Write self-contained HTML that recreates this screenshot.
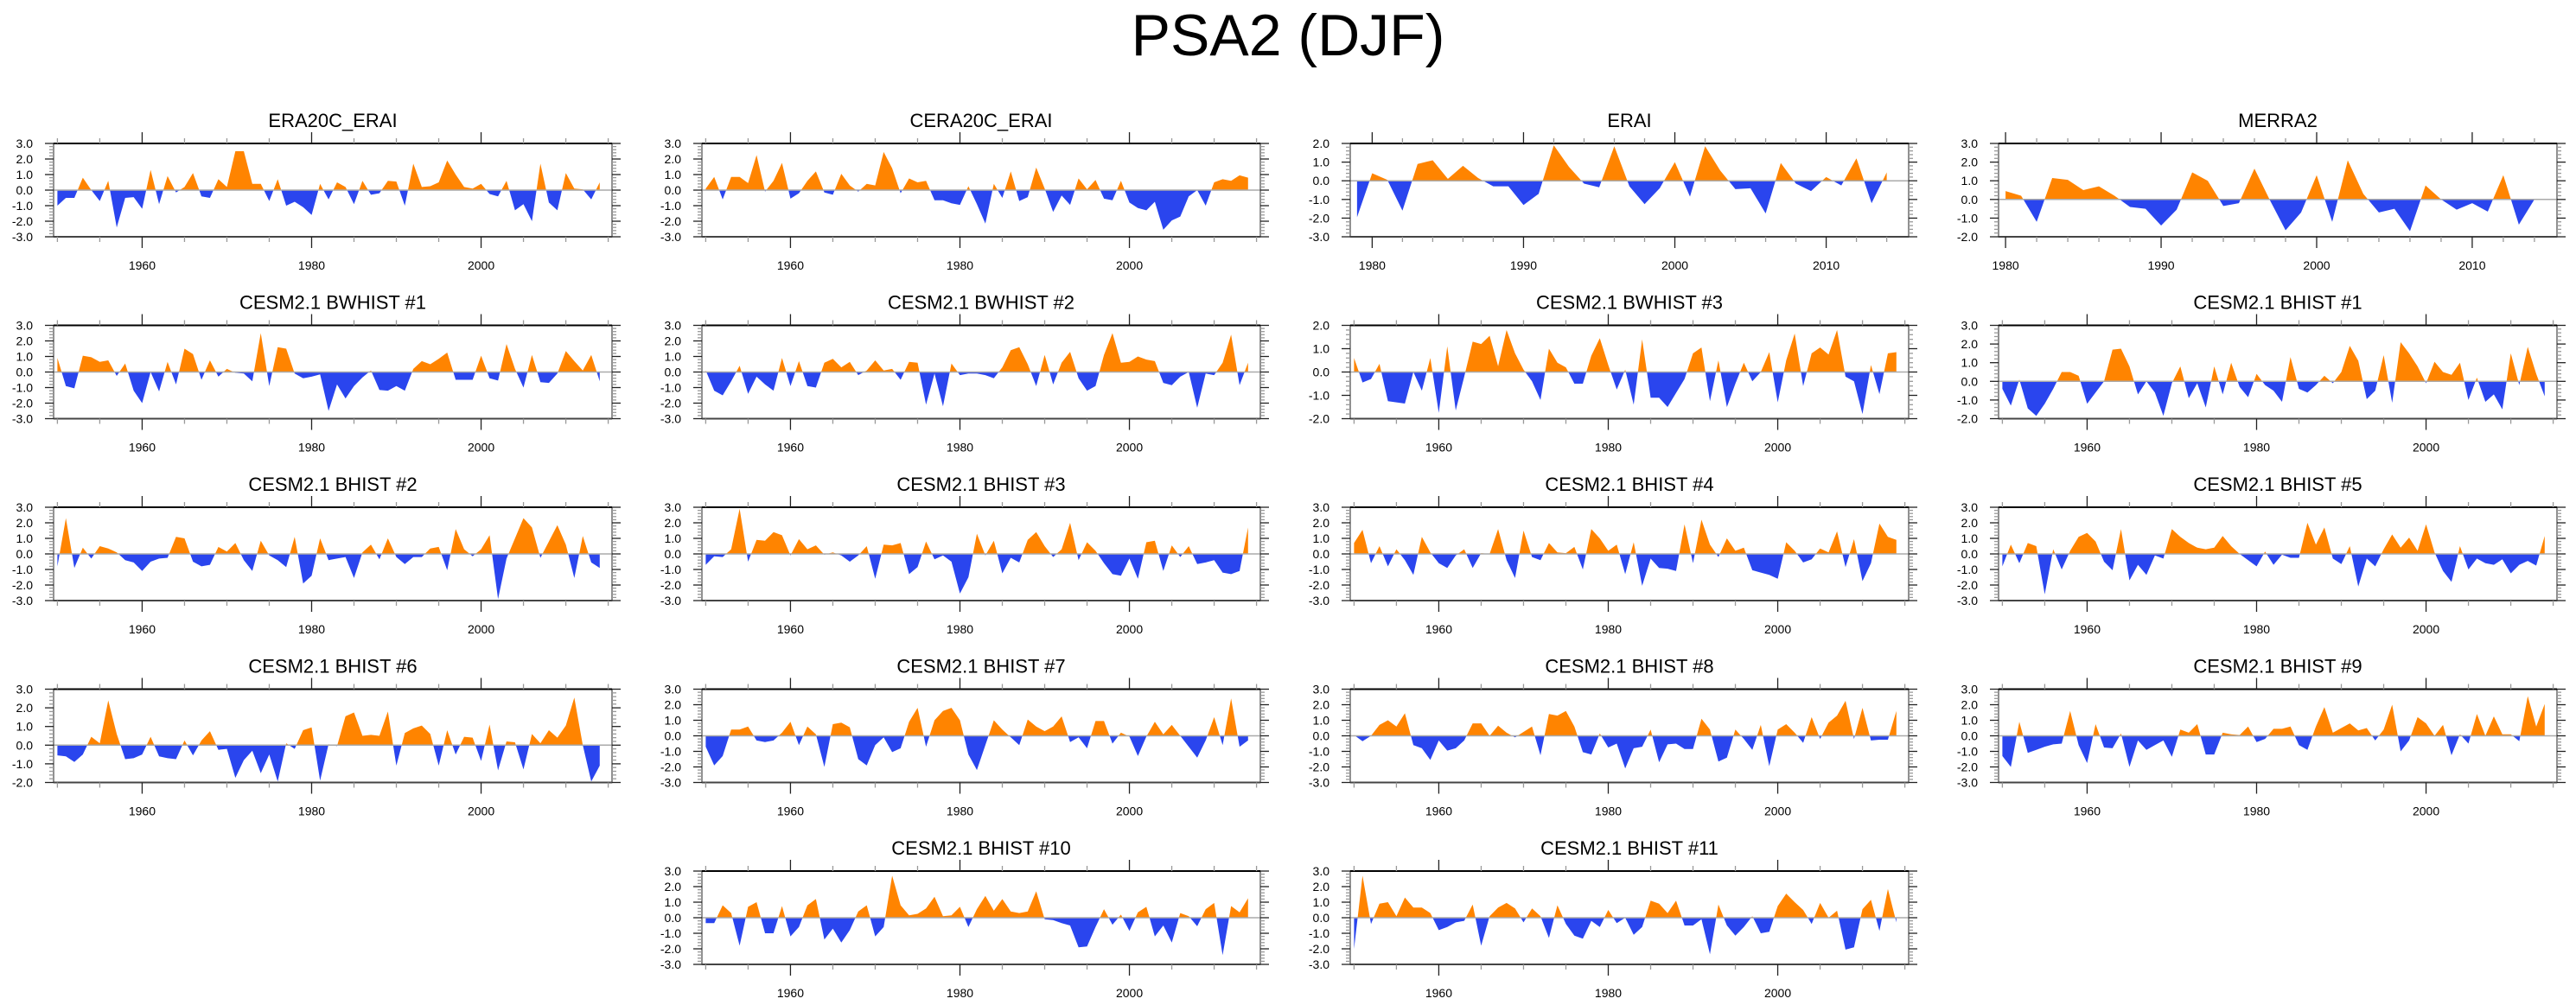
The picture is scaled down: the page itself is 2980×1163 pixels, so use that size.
<!DOCTYPE html>
<html><head><meta charset="utf-8"><title>PSA2 (DJF)</title>
<style>
html,body{margin:0;padding:0;background:#fff;}
svg{display:block;font-family:"Liberation Sans",Arial,sans-serif;}
</style></head>
<body>
<svg id="fig" width="2980" height="1163" viewBox="0 0 2980 1163" xmlns="http://www.w3.org/2000/svg">
<text x="1490" y="64" text-anchor="middle" font-size="68" fill="#000">PSA2 (DJF)</text>
</svg>
<script>
const panelTitles = ["ERA20C_ERAI","CERA20C_ERAI","ERAI","MERRA2","CESM2.1 BWHIST #1","CESM2.1 BWHIST #2","CESM2.1 BWHIST #3","CESM2.1 BHIST #1","CESM2.1 BHIST #2","CESM2.1 BHIST #3","CESM2.1 BHIST #4","CESM2.1 BHIST #5","CESM2.1 BHIST #6","CESM2.1 BHIST #7","CESM2.1 BHIST #8","CESM2.1 BHIST #9","CESM2.1 BHIST #10","CESM2.1 BHIST #11"];
const panelStartYears = [1950,1950,1979,1980,1950,1950,1950,1950,1950,1950,1950,1950,1950,1950,1950,1950,1950,1950];
const panelYMin = [-3,-3,-3,-2,-3,-3,-2,-2,-3,-3,-3,-3,-2,-3,-3,-3,-3,-3];
const panelYMax = [3,3,2,3,3,3,2,3,3,3,3,3,3,3,3,3,3,3];

const sERA20C = [-1.0,-0.5,-0.5,0.8,0.0,-0.7,0.6,-2.4,-0.5,-0.45,-1.2,1.3,-0.9,0.9,-0.15,0.2,1.1,-0.4,-0.5,0.7,0.2,2.5,2.5,0.4,0.4,-0.7,0.7,-1.0,-0.75,-1.1,-1.6,0.4,-0.6,0.5,0.2,-0.9,0.6,-0.3,-0.2,0.6,0.55,-1.0,1.7,0.2,0.25,0.5,1.9,1.0,0.2,0.1,0.4,-0.25,-0.4,0.6,-1.3,-0.9,-2.0,1.7,-0.8,-1.3,1.1,0.1,0.05,-0.6,0.5];
const sCERA20C = [0.1,0.85,-0.6,0.85,0.85,0.45,2.25,-0.1,0.6,1.75,-0.55,-0.2,0.6,1.2,-0.15,-0.3,1.05,0.3,-0.1,0.4,0.3,2.45,1.4,-0.2,0.75,0.5,0.6,-0.65,-0.65,-0.85,-0.95,0.25,-0.9,-2.15,0.4,-0.5,1.2,-0.7,-0.45,1.45,0.1,-1.4,-0.35,-0.95,0.75,0.05,0.65,-0.55,-0.65,0.6,-0.8,-1.15,-1.3,-0.75,-2.55,-1.95,-1.7,-0.4,0.0,-1.0,0.5,0.7,0.6,0.95,0.8];
const sERAI = [-1.95,0.4,0.05,-1.6,0.9,1.1,0.1,0.8,0.15,-0.3,-0.3,-1.3,-0.7,1.9,0.75,-0.15,-0.35,1.85,-0.3,-1.25,-0.4,1.0,-0.85,1.85,0.55,-0.45,-0.4,-1.75,0.95,-0.15,-0.55,0.2,-0.25,1.2,-1.2,0.45];
const sMERRA2 = [0.45,0.2,-1.2,1.15,1.05,0.5,0.7,0.2,-0.4,-0.5,-1.4,-0.55,1.45,1.0,-0.35,-0.2,1.65,-0.05,-1.65,-0.7,1.3,-1.2,2.1,0.3,-0.7,-0.5,-1.7,0.75,0.0,-0.55,-0.2,-0.65,1.3,-1.35,0.0];
const sBWHIST1 = [0.9,-0.9,-1.05,1.05,0.95,0.65,0.75,-0.25,0.55,-1.2,-2.0,0.0,-1.25,0.65,-0.8,1.5,1.15,-0.5,0.75,-0.3,0.2,-0.05,-0.1,-0.6,2.5,-0.9,1.6,1.5,-0.1,-0.4,-0.3,-0.15,-2.5,-0.8,-1.7,-0.9,-0.35,0.1,-1.15,-1.2,-0.9,-1.2,0.2,0.7,0.5,0.85,1.25,-0.5,-0.5,-0.5,1.05,-0.4,-0.55,1.8,0.2,-1.0,1.1,-0.65,-0.7,-0.1,1.35,0.7,0.1,1.1,-0.6];
const sBWHIST2 = [0.1,-1.2,-1.5,-0.6,0.4,-1.4,-0.3,-0.8,-1.2,0.9,-0.9,0.7,-0.9,-1.0,0.6,0.85,0.3,0.65,-0.2,0.1,0.75,0.1,0.2,-0.5,0.65,0.6,-2.1,-0.1,-2.2,0.55,-0.2,-0.1,-0.1,-0.2,-0.4,0.3,1.4,1.6,0.5,-0.9,1.1,-0.8,0.6,1.3,-0.4,-1.2,-0.9,1.1,2.5,0.6,0.65,1.0,0.8,0.7,-0.7,-0.85,-0.3,0.0,-2.3,-0.1,-0.2,0.6,2.4,-0.85,0.6];
const sBWHIST3 = [0.6,-0.45,-0.3,0.35,-1.25,-1.3,-1.35,0.0,-0.8,0.6,-1.75,1.1,-1.65,-0.2,1.3,1.2,1.55,0.25,1.8,0.8,0.1,-0.4,-1.2,1.0,0.4,0.2,-0.5,-0.5,0.7,1.45,0.3,-0.75,0.1,-1.4,1.4,-1.1,-1.1,-1.5,-0.9,-0.3,0.8,1.05,-1.25,0.5,-1.5,-0.5,0.4,-0.4,0.0,0.85,-1.3,0.5,1.65,-0.6,0.8,1.05,0.75,1.8,-0.2,-0.4,-1.8,0.3,-0.95,0.8,0.85];
const sBHIST1 = [-0.4,-1.3,0.1,-1.45,-1.85,-1.2,-0.4,0.5,0.5,0.3,-1.2,-0.6,0.0,1.7,1.75,0.8,-0.7,0.0,-0.6,-1.85,-0.1,0.8,-0.9,-0.1,-1.4,0.8,-0.7,1.0,-0.3,-0.85,0.4,-0.2,-0.5,-1.1,1.3,-0.4,-0.6,-0.2,0.3,-0.1,0.5,1.9,1.1,-0.95,-0.5,1.4,-1.15,2.1,1.5,0.8,-0.1,1.05,0.5,0.35,1.0,-1.0,0.2,-1.1,-0.7,-1.5,1.5,-0.2,1.85,0.4,-0.8];
const sBHIST2 = [-0.8,2.3,-0.9,0.4,-0.3,0.5,0.35,0.1,-0.4,-0.55,-1.1,-0.5,-0.3,-0.25,1.1,1.0,-0.5,-0.8,-0.7,0.45,0.15,0.7,-0.4,-1.1,0.85,-0.1,-0.4,-0.85,1.1,-1.9,-1.4,1.0,-0.4,-0.3,-0.2,-1.55,0.1,0.6,-0.35,1.0,-0.2,-0.65,-0.2,-0.2,0.35,0.45,-1.05,1.6,0.3,-0.15,0.3,1.2,-2.9,-0.3,1.0,2.3,1.7,-0.25,0.8,1.85,0.6,-1.55,1.15,-0.55,-0.9];
const sBHIST3 = [-0.7,-0.15,-0.2,0.3,2.9,-0.5,0.9,0.85,1.4,1.2,-0.1,0.95,0.3,0.55,-0.05,0.1,-0.1,-0.5,-0.1,0.5,-1.6,0.6,0.55,0.7,-1.3,-0.85,0.8,-0.35,-0.1,-0.5,-2.55,-1.5,1.3,-0.1,0.85,-1.25,-0.25,-0.55,0.9,1.4,0.5,-0.2,0.3,2.0,-0.4,0.75,0.2,-0.6,-1.3,-1.4,-0.3,-1.6,0.75,0.85,-1.1,0.55,-0.2,0.5,-0.65,-0.55,-0.4,-1.2,-1.3,-1.1,1.7];
const sBHIST4 = [0.7,1.55,-0.6,0.5,-0.8,0.3,-0.4,-1.35,1.1,0.1,-0.6,-0.9,-0.1,0.3,-0.9,0.05,0.0,1.6,-0.4,-1.55,1.5,-0.2,-0.4,0.7,0.1,0.05,0.45,-1.0,1.6,1.0,0.2,0.6,-1.3,0.75,-2.05,-0.3,-0.9,-0.95,-1.1,1.9,-0.6,2.2,0.6,-0.2,1.0,0.2,0.4,-1.05,-1.2,-1.35,-1.6,0.75,0.2,-0.55,-0.35,0.35,0.1,1.45,-0.85,0.95,-1.75,-0.6,1.95,1.1,0.9];
const sBHIST5 = [-0.8,0.6,-0.6,0.7,0.5,-2.6,0.3,-1.0,0.2,1.1,1.35,0.8,-0.5,-1.05,1.6,-1.7,-0.7,-1.35,-0.1,-0.3,1.6,1.1,0.7,0.4,0.3,0.4,1.15,0.5,0.0,-0.4,-0.8,0.15,-0.7,-0.05,-0.25,-0.25,2.0,0.6,1.7,-0.3,-0.65,0.5,-2.1,-0.3,-0.8,0.3,1.25,0.4,1.05,0.2,1.9,0.1,-1.1,-1.8,0.5,-1.0,-0.3,-0.6,-0.7,-0.35,-1.25,-0.7,-0.45,-0.75,1.15];
const sBHIST6 = [-0.55,-0.6,-0.9,-0.5,0.45,0.1,2.4,0.6,-0.75,-0.7,-0.5,0.45,-0.6,-0.7,-0.75,0.25,-0.55,0.25,0.75,-0.25,-0.2,-1.75,-0.8,-0.3,-1.5,-0.5,-1.95,0.1,-0.2,0.8,0.95,-1.9,0.05,-0.05,1.55,1.75,0.5,0.55,0.5,1.8,-1.1,0.65,0.9,1.05,0.6,-1.1,0.8,-0.5,0.45,0.4,-0.85,1.1,-1.35,0.2,0.15,-1.3,0.6,0.1,0.8,0.4,1.05,2.55,0.0,-1.95,-1.1];
const sBHIST7 = [-0.7,-1.9,-1.3,0.4,0.4,0.6,-0.3,-0.4,-0.3,0.2,0.9,-0.6,0.6,0.1,-2.0,0.75,0.85,0.55,-1.5,-1.9,-0.6,-0.1,-1.05,-0.8,0.9,1.8,-0.7,1.0,1.6,1.8,1.0,-1.2,-2.2,-0.6,1.0,0.4,-0.1,-0.6,1.05,0.6,0.3,0.6,1.25,-0.4,-0.1,-0.8,0.95,0.95,-0.5,0.2,-0.05,-1.3,-0.05,0.9,0.1,0.7,0.0,-0.7,-1.4,-0.3,1.2,-0.6,2.4,-0.7,-0.3];
const sBHIST8 = [0.05,-0.35,0.0,0.7,1.0,0.6,1.45,-0.6,-0.8,-1.55,-0.3,-0.95,-0.8,-0.3,0.8,0.8,0.0,0.65,0.2,-0.1,0.25,0.6,-1.25,1.4,1.3,1.6,0.6,-1.05,-1.2,0.15,-0.75,-0.5,-2.1,-0.8,-0.7,0.4,-1.7,-0.55,-0.5,-0.85,-0.85,1.1,0.4,-1.65,-1.4,0.4,-0.2,-0.9,0.7,-1.95,0.4,0.75,0.2,-0.45,1.2,-0.2,0.85,1.3,2.25,-0.2,1.8,-0.3,-0.25,-0.25,1.6];
const sBHIST9 = [-1.3,-2.0,0.9,-1.1,-0.9,-0.7,-0.55,-0.5,1.6,-0.6,-1.75,0.75,-0.75,-0.8,0.15,-2.0,-0.3,-0.9,-0.6,-0.3,-1.35,0.4,0.2,0.75,-1.2,-1.2,0.2,0.1,0.05,0.6,-0.4,-0.2,0.45,0.45,0.6,-0.6,-0.9,0.6,1.85,0.2,0.5,0.8,0.35,0.5,-0.3,0.4,2.0,-1.0,-0.3,1.2,0.8,0.0,0.7,-1.25,0.1,-0.5,1.4,0.0,1.25,0.1,0.1,-0.35,2.55,0.6,2.05];
const sBHIST10 = [-0.35,-0.35,0.8,0.3,-1.8,0.7,1.0,-1.0,-1.0,0.75,-1.2,-0.6,0.8,1.2,-1.4,-0.7,-1.6,-0.8,0.4,0.8,-1.2,-0.6,2.7,0.8,0.15,0.25,0.6,1.35,0.1,0.15,0.7,-0.6,0.55,1.4,0.45,1.2,0.4,0.3,0.4,1.7,-0.1,-0.15,-0.35,-0.5,-1.9,-1.85,-0.6,0.55,-0.45,0.2,-0.85,0.35,0.7,-1.2,-0.5,-1.6,0.3,0.1,-0.55,0.55,0.95,-2.4,0.75,0.35,1.25];
const sBHIST11 = [-2.0,2.7,-0.4,0.9,1.0,0.1,1.3,0.65,0.65,0.3,-0.8,-0.6,-0.3,-0.2,0.85,-1.8,0.1,0.65,0.95,0.6,-0.3,0.6,0.1,-1.3,0.8,-0.4,-1.15,-1.35,-0.2,-0.6,0.5,-0.35,0.0,-1.1,-0.6,1.1,0.9,0.3,1.1,-0.5,-0.5,-0.1,-2.35,0.85,-0.5,-1.15,-0.6,0.1,-1.0,-0.9,0.75,1.55,1.0,0.5,-0.4,0.95,0.0,0.45,-2.05,-1.9,0.55,1.15,-0.85,1.85,-0.3];
const panelSeries = [sERA20C,sCERA20C,sERAI,sMERRA2,sBWHIST1,sBWHIST2,sBWHIST3,sBHIST1,sBHIST2,sBHIST3,sBHIST4,sBHIST5,sBHIST6,sBHIST7,sBHIST8,sBHIST9,sBHIST10,sBHIST11];

const NS = "http://www.w3.org/2000/svg";
const svg = document.getElementById("fig");
const colX = [62, 812, 1562, 2312];
const rowY = [166, 376.5, 587, 797.5, 1008];
const BW = 646, BH = 108;
const ORANGE = "#ff8400", BLUE = "#2a45ee";

function mk(tag, attrs, parent) {
  const e = document.createElementNS(NS, tag);
  for (const k in attrs) e.setAttribute(k, attrs[k]);
  (parent || svg).appendChild(e);
  return e;
}

function drawPanel(i) {
  const col = i < 16 ? i % 4 : (i - 16) + 1;
  const row = i < 16 ? Math.floor(i / 4) : 4;
  const x0 = colX[col], y0 = rowY[row];
  const vals = panelSeries[i];
  const y1 = panelStartYears[i];
  const yN = y1 + vals.length - 1;
  const xmin = y1 - 0.45, xmax = yN + 1.45;
  const ymin = panelYMin[i], ymax = panelYMax[i];
  const xs = yr => x0 + (yr - xmin) / (xmax - xmin) * BW;
  const ys = v => y0 + (ymax - v) / (ymax - ymin) * BH;

  const g = mk("g", {});
  
  

  const t = mk("text", {x: x0 + BW / 2, y: y0 - 19, "text-anchor": "middle", "font-size": 22, fill: "#000"}, g);
  t.textContent = panelTitles[i];
  
  

  // fills
  const zy = ys(0);
  let d = "M" + xs(y1) + "," + zy;
  vals.forEach((v, k) => { d += " L" + xs(y1 + k).toFixed(2) + "," + ys(v).toFixed(2); });
  d += " L" + xs(yN) + "," + zy + " Z";
  const cidA = "ca" + i, cidB = "cb" + i;
  const defs = mk("defs", {}, g);
  const cA = mk("clipPath", {id: cidA}, defs);
  mk("rect", {x: x0, y: y0, width: BW, height: zy - y0}, cA);
  const cB = mk("clipPath", {id: cidB}, defs);
  mk("rect", {x: x0, y: zy, width: BW, height: y0 + BH - zy}, cB);
  const pa = mk("path", {d: d, fill: ORANGE, "clip-path": "url(#" + cidA + ")"}, g);
  
  
  const pb = mk("path", {d: d, fill: BLUE, "clip-path": "url(#" + cidB + ")"}, g);
  
  

  const zl = mk("line", {x1: x0, x2: x0 + BW, y1: zy, y2: zy, stroke: "#aaa", "stroke-width": 1.5}, g);
  
  

  // frame
  const fr = mk("rect", {x: x0, y: y0, width: BW, height: BH, fill: "none", stroke: "#555", "stroke-width": 1.3}, g);
  
  
  mk("line", {x1: x0, x2: x0 + BW, y1: y0, y2: y0, stroke: "#000", "stroke-width": 2}, g);
  mk("line", {x1: x0, x2: x0 + BW, y1: y0 + BH, y2: y0 + BH, stroke: "#444", "stroke-width": 2}, g);

  // y ticks
  const nMinor = Math.round((ymax - ymin) / 0.2);
  for (let k = 0; k <= nMinor; k++) {
    const v = ymin + k * 0.2;
    const yy = ys(v);
    const major = Math.abs(v - Math.round(v)) < 1e-6;
    const L = major ? 10 : 5;
    const c = major ? "#222" : "#999";
    mk("line", {x1: x0 - L, x2: x0, y1: yy, y2: yy, stroke: c, "stroke-width": 1.3}, g);
    mk("line", {x1: x0 + BW, x2: x0 + BW + L, y1: yy, y2: yy, stroke: c, "stroke-width": 1.3}, g);
    if (major) {
      const lt = mk("text", {x: x0 - 24, y: yy + 5, "text-anchor": "end", "font-size": 14, fill: "#000"}, g);
      lt.textContent = Math.round(v).toFixed(1);
      
      
    }
  }
  // x ticks
  const longSpan = vals.length > 45;
  const minorStep = longSpan ? 5 : 2, majorStep = longSpan ? 20 : 10;
  for (let yr = Math.ceil(xmin / minorStep) * minorStep; yr <= xmax; yr += minorStep) {
    const xx = xs(yr);
    const major = yr % majorStep === 0;
    const L = major ? 13 : 6;
    const c = major ? "#222" : "#999";
    mk("line", {x1: xx, x2: xx, y1: y0 - L, y2: y0, stroke: c, "stroke-width": 1.3}, g);
    mk("line", {x1: xx, x2: xx, y1: y0 + BH, y2: y0 + BH + L, stroke: c, "stroke-width": 1.3}, g);
    if (major) {
      const xt = mk("text", {x: xx, y: y0 + BH + 38, "text-anchor": "middle", "font-size": 14, fill: "#000"}, g);
      xt.textContent = String(yr);
      
      
    }
  }
}
for (let i = 0; i < panelTitles.length; i++) drawPanel(i);
</script>
</body></html>
